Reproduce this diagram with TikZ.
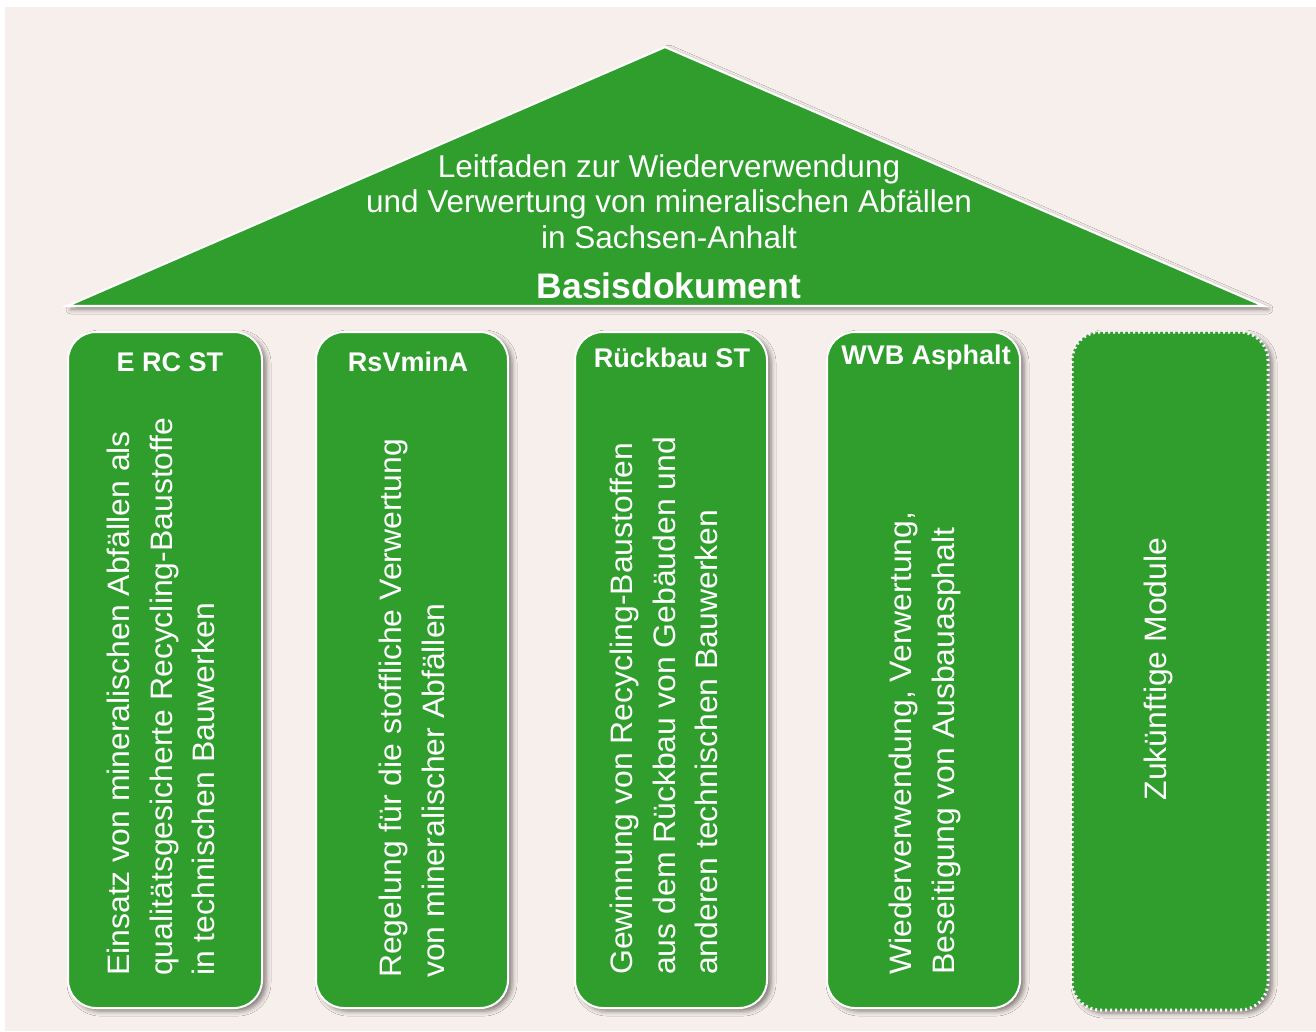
\documentclass[tikz,border=0pt]{standalone}
\usepackage{fontspec}
\setmainfont{Liberation Sans}
\newfontfamily\vfont{Liberation Sans}[FakeStretch=1.03]
\usetikzlibrary{shadows.blur}
\definecolor{bgc}{RGB}{247,239,235}
\definecolor{grn}{RGB}{47,158,44}
\tikzset{
  myshadow/.style={blur shadow={shadow xshift=4pt, shadow yshift=-3pt, shadow blur radius=5pt, shadow opacity=50}},
  pillar/.style={myshadow, fill=grn, draw=white, line width=2pt, rounded corners=28pt, inner sep=0pt},
  futurepillar/.style={pillar, draw=white, line width=3pt, dash pattern=on 2pt off 3pt},
  ptitle/.style={text=white, font=\bfseries\fontsize{27}{30}\selectfont, inner sep=0pt},
  vtext/.style={text=white, font=\vfont\fontsize{31}{42.5}\selectfont, rotate=90, anchor=west, align=left, inner sep=0pt},
  rooftext/.style={text=white, font=\fontsize{31.5}{35.5}\selectfont, align=center, inner sep=0pt}
}
\begin{document}
\begin{tikzpicture}[x=1pt,y=-1pt]
\useasboundingbox (0,0) rectangle (1316,1031);
\fill[white] (0,0) rectangle (1316,1031);
\fill[bgc] (5,7) rectangle (1316,1031);
% roof
\path[myshadow, fill=grn, draw=white, line width=2.2pt, line join=miter] (67,306) -- (665,47) -- (1264,306) -- cycle;
\node[rooftext, anchor=base] (roof) at (669,248) {Leitfaden zur Wiederverwendung\\und Verwertung von mineralischen Abfällen\\in Sachsen-Anhalt};
\node[text=white, font=\bfseries\fontsize{35.5}{40}\selectfont, inner sep=0pt, anchor=base] (basis) at (669,298) {Basisdokument};
% pillars
\node[pillar, minimum width=194pt, minimum height=676pt] (b1) at (165,670) {};
\node[pillar, minimum width=192pt, minimum height=676pt] (b2) at (412,670) {};
\node[pillar, minimum width=192pt, minimum height=676pt] (b3) at (671,670) {};
\node[pillar, minimum width=193pt, minimum height=676pt] (b4) at (923.5,670) {};
\node[futurepillar, minimum width=196pt, minimum height=678pt] (b5) at (1170,671) {};
% titles
\node[ptitle] (t1) at (170,362) {E RC ST};
\node[ptitle] (t2) at (408,362) {RsVminA};
\node[ptitle] (t3) at (672,358) {Rückbau ST};
\node[ptitle] (t4) at (926,358) {WVB Asphalt};
% vertical texts
\node[vtext] (v1) at (161,976) {Einsatz von mineralischen Abfällen als\\qualitätsgesicherte Recycling-Baustoffe\\in technischen Bauwerken};
\node[vtext] (v2) at (412,978) {Regelung für die stoffliche Verwertung\\von mineralischer Abfällen};
\node[vtext] (v3) at (664,975) {Gewinnung von Recycling-Baustoffen\\aus dem Rückbau von Gebäuden und\\anderen technischen Bauwerken};
\node[vtext] (v4) at (925,975) {Wiederverwendung, Verwertung,\\Beseitigung von Ausbauasphalt};
\node[text=white, font=\vfont\fontsize{31}{42.5}\selectfont, rotate=90, inner sep=0pt] (v5) at (1158,669) {Zukünftige Module};
\end{tikzpicture}
\end{document}
